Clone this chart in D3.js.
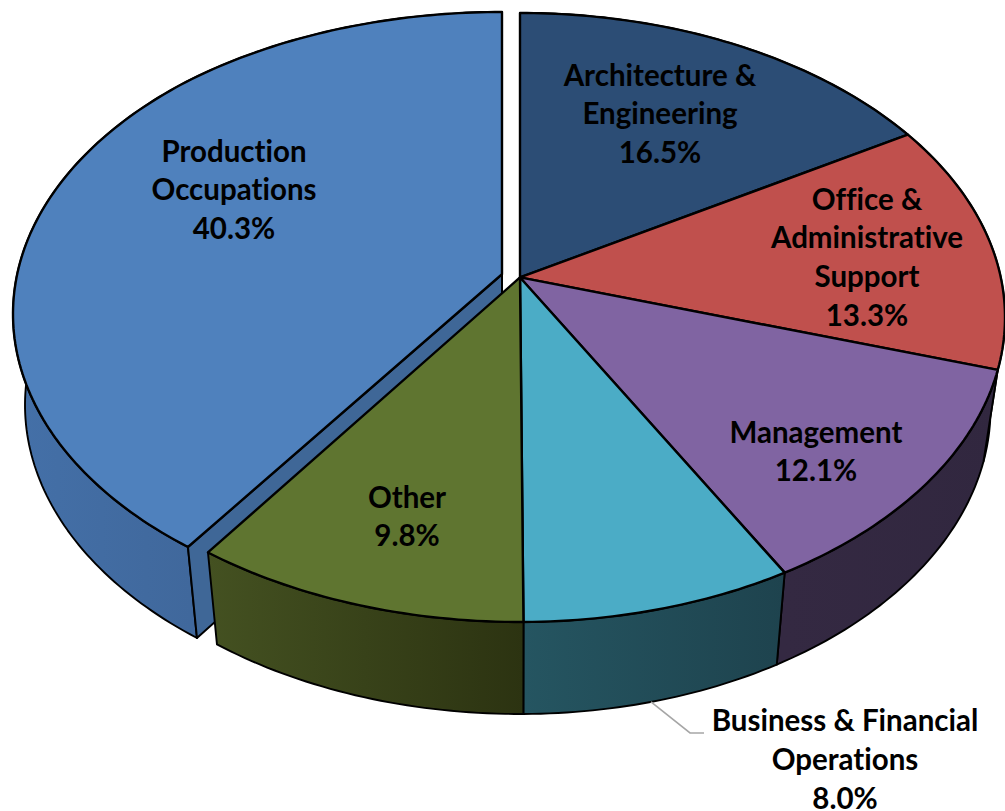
<!DOCTYPE html>
<html><head><meta charset="utf-8">
<style>html,body{margin:0;padding:0;background:#fff}svg{display:block}text{font-family:Lato,"Open Sans",sans-serif;font-weight:700;fill:#000;text-anchor:middle;font-variant-ligatures:none}</style>
<script src="https://cdn.jsdelivr.net/npm/d3@7"></script></head><body>
<script>
const categories=["Architecture & Engineering","Office & Administrative Support","Management","Business & Financial Operations","Other","Production Occupations"];
const shares=[16.5,13.3,12.1,8.0,9.8,40.3];
const topColors=["#2c4d75","#c0504d","#8064a2","#4bacc6","#5f7530","#4f81bd"];
const wallDark=["#1e3550","#86322f","#31273f","#1e434e","#2c3311","#395a87"];
const wallLight=["#2c4d75","#a04441","#342942","#255561","#445121","#4470a8"];
const labelLines=[["Architecture &","Engineering","16.5%"],["Office &","Administrative","Support","13.3%"],["Management","12.1%"],["Business & Financial","Operations","8.0%"],["Other","9.8%"],["Production","Occupations","40.3%"]];
const labelX=[660,867,816,845,407,234];
const labelY=[85.5,209.5,442.5,731,507.5,161.5];
const W=1005,H=811,persp=0.1316,lineGap=38.9;
const svg=d3.select("body").append("svg").attr("width",W).attr("height",H);
const defs=svg.append("defs");
const arcs=d3.pie().sort(null).value(d=>d)(shares);
const xDomain=[-1,-0.636,0,1];
const frames={
 main:{x:d3.scaleLinear().domain(xDomain).range([30,208,520,1005]),y:d3.scaleLinear().domain([-1,1]).range([13,622])},
 mainLow:{x:d3.scaleLinear().domain(xDomain).range([44,217,520,990.5]),y:d3.scaleLinear().domain([-1,1]).range([104,714])},
 exp:{x:d3.scaleLinear().domain(xDomain).range([13,188,502,992]),y:d3.scaleLinear().domain([-1,1]).range([12,616])},
 expLow:{x:d3.scaleLinear().domain(xDomain).range([25,197,502,978]),y:d3.scaleLinear().domain([-1,1]).range([103,707])}
};
function proj(t,f,r=1){
  const ux=r*Math.sin(t),uy=-r*Math.cos(t),d=1-persp*uy;
  return [f.x(ux*Math.sqrt(1-persp*persp)/d),f.y((uy-persp)/d)];
}
const edge=(a,f)=>{const n=Math.max(8,Math.ceil((a.endAngle-a.startAngle)*60));return d3.range(n+1).map(i=>proj(a.startAngle+(a.endAngle-a.startAngle)*i/n,f));};
const line=d3.line();
const style=(s,w)=>s.attr("stroke","#000").attr("stroke-width",w).attr("stroke-linejoin","round");
const layers=arcs.map((a,i)=>({a,i,top:i===5?frames.exp:frames.main,low:i===5?frames.expLow:frames.mainLow}));
layers.forEach(l=>{
  const pts=edge(l.a,l.top),ex=d3.extent(pts,p=>p[0]);
  const g=defs.append("linearGradient").attr("id","w"+l.i).attr("gradientUnits","userSpaceOnUse")
    .attr("x1",ex[0]).attr("x2",ex[1]).attr("y1",0).attr("y2",0);
  g.append("stop").attr("offset",0).attr("stop-color",wallLight[l.i]);
  g.append("stop").attr("offset",1).attr("stop-color",wallDark[l.i]);
});
[5,0,1,2,3,4].forEach(i=>{
  const l=layers[i];
  const poly=edge(l.a,l.top).concat(edge(l.a,l.low).reverse());
  style(svg.append("path").attr("d",line(poly)+"Z").attr("fill",`url(#w${i})`),1.9);
  if(i===5){
    const f=[proj(l.a.startAngle,l.top),proj(0,l.top,0),proj(0,l.low,0),proj(l.a.startAngle,l.low)];
    style(svg.append("path").attr("d",line(f)+"Z").attr("fill","#3f6797"),2);
  }
});
[5,0,1,2,3,4].forEach(i=>{
  const l=layers[i];
  const poly=[proj(0,l.top,0)].concat(edge(l.a,l.top));
  style(svg.append("path").attr("d",line(poly)+"Z").attr("fill",topColors[i]),2.4);
});
const leader=[proj(arcs[3].startAngle+0.52*(arcs[3].endAngle-arcs[3].startAngle),frames.mainLow)];
leader.push([leader[0][0]+39,733],[leader[0][0]+53,733]);
svg.append("path").attr("d",line(leader)).attr("fill","none").attr("stroke","#a6a6a6").attr("stroke-width",1.6);
labelLines.forEach((ls,i)=>{
  const t=svg.append("text").attr("font-size",29.5);
  ls.forEach((s,j)=>t.append("tspan").attr("x",labelX[i]).attr("y",labelY[i]+j*lineGap).text(s));
});
</script></body></html>
